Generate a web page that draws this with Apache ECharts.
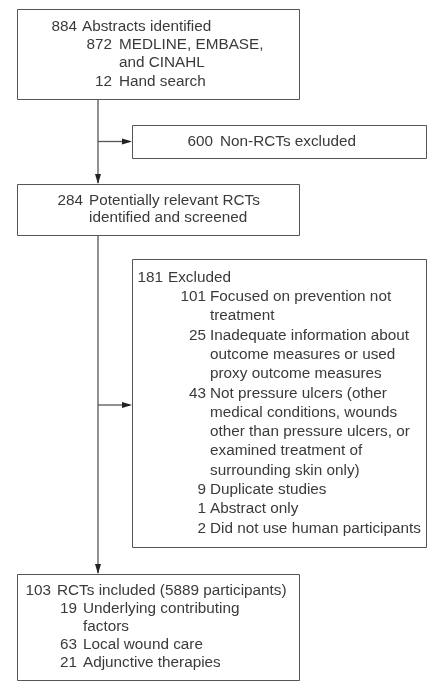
<!DOCTYPE html>
<html>
<head>
<meta charset="utf-8">
<script src="https://cdn.jsdelivr.net/npm/echarts@6/dist/echarts.min.js"></script>
<style>
  html, body { margin: 0; padding: 0; background: #fff; }
  #flow { width: 427px; height: 681px; }
</style>
</head>
<body>
<div id="flow"></div>
<script>
// counts and labels of each box (level 0 = main line, 1 = sub item)
const identNums = ['884', '872', '', '12']
const identLines = ['Abstracts identified', 'MEDLINE, EMBASE,', 'and CINAHL', 'Hand search']
const identLevels = [0, 1, 1, 1]

const nonRctNums = ['600']
const nonRctLines = ['Non-RCTs excluded']

const screenNums = ['284', '']
const screenLines = ['Potentially relevant RCTs', 'identified and screened']
const screenLevels = [0, 0]

const exclNums = ['181', '101', '', '25', '', '', '43', '', '', '', '', '9', '1', '2']
const exclLines = [
    'Excluded',
    'Focused on prevention not',
    'treatment',
    'Inadequate information about',
    'outcome measures or used',
    'proxy outcome measures',
    'Not pressure ulcers (other',
    'medical conditions, wounds',
    'other than pressure ulcers, or',
    'examined treatment of',
    'surrounding skin only)',
    'Duplicate studies',
    'Abstract only',
    'Did not use human participants',
]
const exclLevels = [0, 1, 1, 1, 1, 1, 1, 1, 1, 1, 1, 1, 1, 1]

const inclNums = ['103', '19', '', '63', '21']
const inclLines = ['RCTs included (5889 participants)', 'Underlying contributing', 'factors', 'Local wound care', 'Adjunctive therapies']
const inclLevels = [0, 1, 1, 1, 1]

const FONT = '15.3px "Liberation Sans", Arial, sans-serif'
const INK = '#3a3a3a'
const EDGE = '#555'

// box layout
const boxIdent = { x: 17, y: 9, w: 282, h: 90, lh: 18.3, numX: [77, 112], textX: [82, 119] }
const boxNonRct = { x: 132, y: 125, w: 294, h: 33 }
const boxScreen = { x: 17, y: 184, w: 282, h: 51, lh: 17.5, numX: [83], textX: [89] }
const boxExcl = { x: 132, y: 259, w: 294, h: 288, lh: 19.3, numX: [163, 206], textX: [168, 210] }
const boxIncl = { x: 17, y: 574, w: 282, h: 106, lh: 18, numX: [51, 77], textX: [57, 83] }
const spineX = 98

function boxRect(b) {
    return {
        type: 'rect',
        shape: { x: b.x + 0.5, y: b.y + 0.5, width: b.w, height: b.h },
        style: { fill: '#fff', stroke: EDGE, lineWidth: 1 },
    }
}

function listBox(b, nums, lines, levels) {
    let els = [boxRect(b)]
    const top = b.y + b.h / 2 - ((lines.length - 1) * b.lh) / 2
    lines.forEach((t, i) => {
        const y = top + i * b.lh
        const lv = levels[i]
        if (nums[i] !== '') {
            els.push({
                type: 'text', x: b.numX[lv], y: y,
                style: { text: nums[i], font: FONT, fill: INK, align: 'right', verticalAlign: 'middle' },
            })
        }
        els.push({
            type: 'text', x: b.textX[lv], y: y,
            style: { text: t, font: FONT, fill: INK, align: 'left', verticalAlign: 'middle' },
        })
    })
    return els
}

function centerBox(b, num, text) {
    const cx = b.x + b.w / 2 - 66
    const y = b.y + b.h / 2
    return [
        boxRect(b),
        { type: 'text', x: cx, y: y, style: { text: num, font: FONT, fill: INK, align: 'right', verticalAlign: 'middle' } },
        { type: 'text', x: cx + 7, y: y, style: { text: text, font: FONT, fill: INK, align: 'left', verticalAlign: 'middle' } },
    ]
}

function line(x1, y1, x2, y2) {
    return {
        type: 'line',
        shape: { x1: x1, y1: y1, x2: x2, y2: y2 },
        style: { stroke: EDGE, lineWidth: 1.3 },
    }
}

function headRight(x, y) {
    return { type: 'polygon', shape: { points: [[x, y], [x - 10, y - 3], [x - 10, y + 3]] }, style: { fill: '#222' } }
}

function headDown(x, y) {
    return { type: 'polygon', shape: { points: [[x, y], [x - 3, y - 10], [x + 3, y - 10]] }, style: { fill: '#222' } }
}

let arrows = []
const yA = boxNonRct.y + boxNonRct.h / 2
const yB = boxExcl.y + 146
arrows.push(line(spineX, boxIdent.y + boxIdent.h, spineX, boxScreen.y - 1))
arrows.push(headDown(spineX, boxScreen.y))
arrows.push(line(spineX, yA, boxNonRct.x - 2, yA))
arrows.push(headRight(boxNonRct.x, yA))
arrows.push(line(spineX, boxScreen.y + boxScreen.h, spineX, boxIncl.y - 1))
arrows.push(headDown(spineX, boxIncl.y))
arrows.push(line(spineX, yB, boxExcl.x - 2, yB))
arrows.push(headRight(boxExcl.x, yB))

const myChart = echarts.init(document.getElementById('flow'), null, { renderer: 'canvas' })
const option = {
    backgroundColor: '#fff',
    animation: false,
    graphic: {
        elements: [].concat(
            arrows,
            listBox(boxIdent, identNums, identLines, identLevels),
            centerBox(boxNonRct, nonRctNums[0], nonRctLines[0]),
            listBox(boxScreen, screenNums, screenLines, screenLevels),
            listBox(boxExcl, exclNums, exclLines, exclLevels),
            listBox(boxIncl, inclNums, inclLines, inclLevels)
        ),
    },
}
myChart.setOption(option)
</script>
</body>
</html>
